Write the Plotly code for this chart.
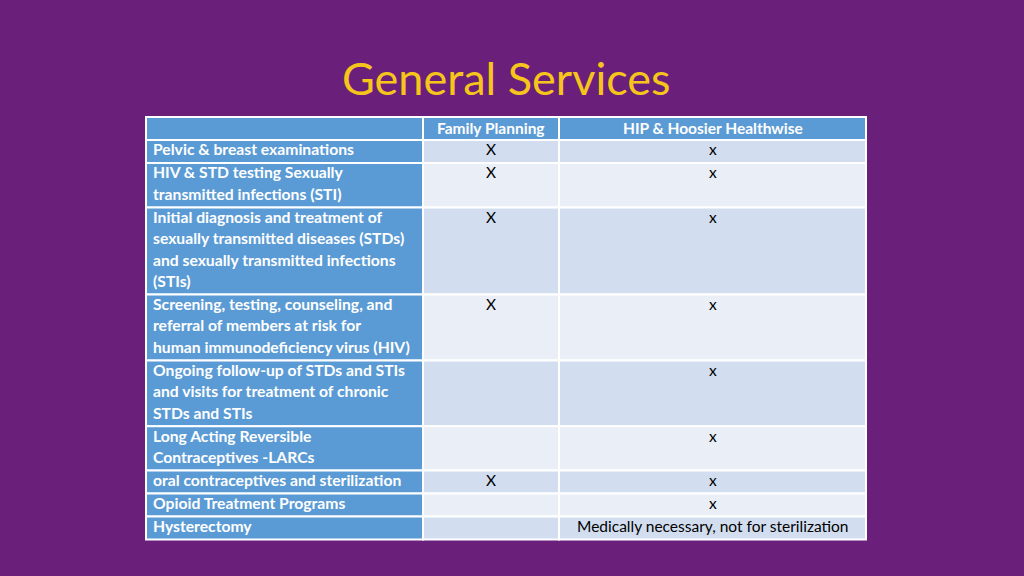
import plotly.graph_objects as go

# ---- data ----
title = "General Services"
headers = ["", "Family Planning", "HIP & Hoosier Healthwise"]
services = [
    "Pelvic & breast examinations",
    "HIV & STD testing Sexually<br>transmitted infections (STI)",
    "Initial diagnosis and treatment of<br>sexually transmitted diseases (STDs)<br>and sexually transmitted infections<br>(STIs)",
    "Screening, testing, counseling, and<br>referral of members at risk for<br>human immunodeficiency virus (HIV)",
    "Ongoing follow-up of STDs and STIs<br>and visits for treatment of chronic<br>STDs and STIs",
    "Long Acting Reversible<br>Contraceptives -LARCs",
    "oral contraceptives and sterilization",
    "Opioid Treatment Programs",
    "Hysterectomy",
]
family_planning = ["X", "X", "X", "X", "", "", "X", "", ""]
hip_hoosier = ["x", "x", "x", "x", "x", "x", "x", "x",
               "Medically necessary, not for sterilization"]

# ---- layout / style ----
W, H = 1024, 576
BG = "#6A1F7A"
TITLE_C = "#F6C51B"
BLUE = "#5B9BD5"
ROW_A = "#D2DEEF"
ROW_B = "#EAEFF7"
FONT = "Lato"
col_edges = [146, 423, 559, 866]
header_top, header_h = 117, 23
line_h, row_pad = 21.4, 1.6
text_off = 9.3

fig = go.Figure()
shapes, annots = [], []

def cell(x0, x1, y0, y1, color):
    shapes.append(dict(type="rect", xref="x", yref="y", x0=x0, x1=x1, y0=y0, y1=y1,
                       fillcolor=color, line=dict(color="white", width=2), layer="below"))

# header
for c in range(3):
    cell(col_edges[c], col_edges[c + 1], header_top, header_top + header_h, BLUE)
    if headers[c]:
        annots.append(dict(x=(col_edges[c] + col_edges[c + 1]) / 2, y=header_top + header_h / 2 - 0.8,
                           text=headers[c], showarrow=False, xanchor="center", yanchor="middle",
                           font=dict(family=FONT, size=15.5, color="white", weight="bold")))

y = header_top + header_h
for i, (svc, fp, hh) in enumerate(zip(services, family_planning, hip_hoosier)):
    lines = svc.split("<br>")
    rh = line_h * len(lines) + row_pad
    fill = ROW_A if i % 2 == 0 else ROW_B
    cell(col_edges[0], col_edges[1], y, y + rh, BLUE)
    cell(col_edges[1], col_edges[2], y, y + rh, fill)
    cell(col_edges[2], col_edges[3], y, y + rh, fill)
    for k, ln in enumerate(lines):
        annots.append(dict(x=col_edges[0] + 5, y=y + text_off + k * line_h, text=ln, showarrow=False,
                           xanchor="left", yanchor="middle",
                           font=dict(family=FONT, size=15.7, color="white", weight="bold")))
    for c, val in ((1, fp), (2, hh)):
        if val:
            annots.append(dict(x=(col_edges[c] + col_edges[c + 1]) / 2, y=y + text_off, text=val,
                               showarrow=False, xanchor="center", yanchor="middle",
                               font=dict(family=FONT, size=15.5, color="black")))
    y += rh

annots.append(dict(x=506, y=78, text=title, showarrow=False, xanchor="center", yanchor="middle",
                   font=dict(family=FONT, size=45, color=TITLE_C, weight=400)))

fig.update_layout(
    width=W, height=H, paper_bgcolor=BG, plot_bgcolor=BG,
    margin=dict(l=0, r=0, t=0, b=0),
    xaxis=dict(range=[0, W], visible=False, fixedrange=True),
    yaxis=dict(range=[H, 0], visible=False, fixedrange=True),
    shapes=shapes, annotations=annots, showlegend=False,
)
fig.write_html("out.html", config={"displayModeBar": False},
               post_script="document.body.style.margin='0';document.body.style.background='" + BG + "';")
